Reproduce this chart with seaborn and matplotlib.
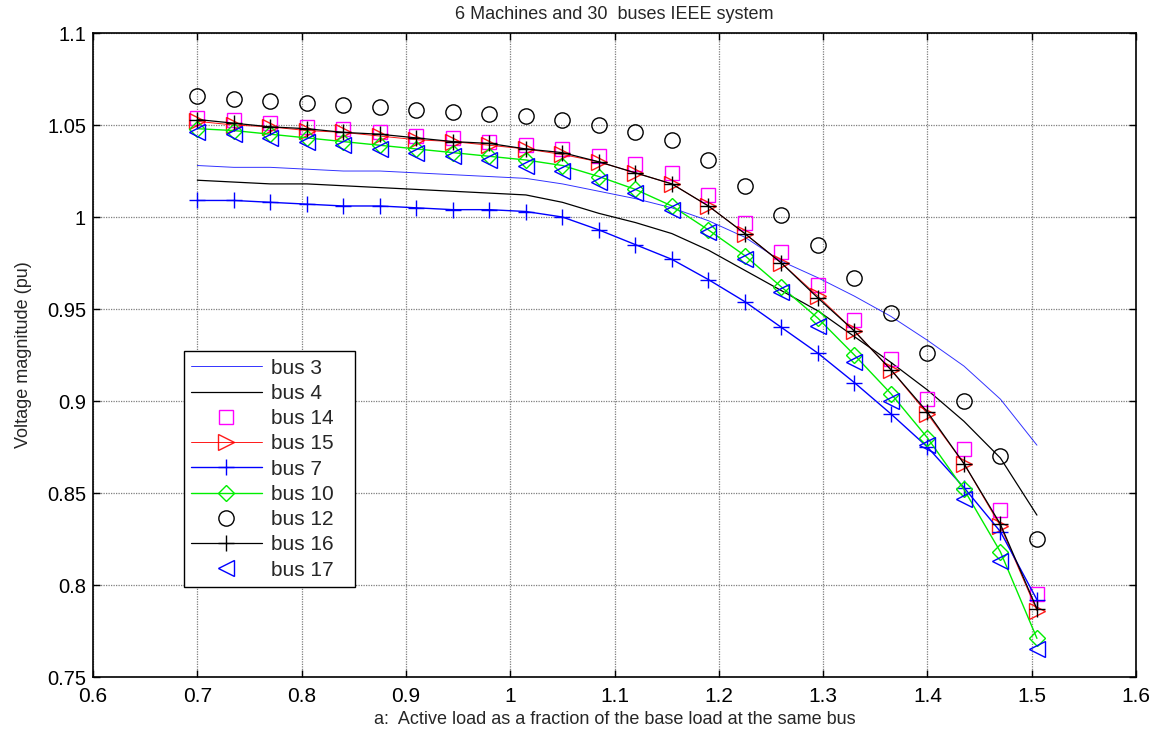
import numpy as np
import pandas as pd
import matplotlib
matplotlib.use("Agg")
import matplotlib.pyplot as plt
import seaborn as sns

# ---------------- data ----------------
load = [0.700, 0.735, 0.770, 0.805, 0.840, 0.875, 0.910, 0.945, 0.980, 1.015, 1.050, 1.085,
        1.120, 1.155, 1.190, 1.225, 1.260, 1.295, 1.330, 1.365, 1.400, 1.435, 1.470, 1.505]

bus3 = [1.028, 1.027, 1.027, 1.026, 1.025, 1.025, 1.024, 1.023, 1.022, 1.021, 1.018, 1.014,
        1.010, 1.005, 0.998, 0.989, 0.976, 0.967, 0.957, 0.946, 0.933, 0.919, 0.901, 0.876]
bus4 = [1.020, 1.019, 1.018, 1.018, 1.017, 1.016, 1.015, 1.014, 1.013, 1.012, 1.008, 1.002,
        0.997, 0.991, 0.982, 0.971, 0.960, 0.949, 0.935, 0.921, 0.906, 0.889, 0.869, 0.838]
bus14 = [1.054, 1.053, 1.051, 1.049, 1.048, 1.046, 1.044, 1.043, 1.041, 1.039, 1.037, 1.033,
         1.029, 1.024, 1.012, 0.997, 0.981, 0.963, 0.944, 0.923, 0.901, 0.874, 0.841, 0.795]
bus15 = [1.052, 1.050, 1.049, 1.047, 1.046, 1.044, 1.042, 1.041, 1.039, 1.037, 1.034, 1.030,
         1.024, 1.018, 1.006, 0.991, 0.975, 0.957, 0.938, 0.917, 0.893, 0.866, 0.832, 0.786]
bus7 = [1.009, 1.009, 1.008, 1.007, 1.006, 1.006, 1.005, 1.004, 1.004, 1.003, 1.000, 0.993,
        0.985, 0.977, 0.966, 0.954, 0.940, 0.926, 0.910, 0.893, 0.875, 0.853, 0.829, 0.792]
bus10 = [1.048, 1.047, 1.045, 1.043, 1.041, 1.039, 1.037, 1.035, 1.033, 1.031, 1.028, 1.022,
         1.015, 1.006, 0.993, 0.979, 0.962, 0.945, 0.925, 0.904, 0.880, 0.852, 0.818, 0.771]
bus12 = [1.066, 1.064, 1.063, 1.062, 1.061, 1.060, 1.058, 1.057, 1.056, 1.055, 1.053, 1.050,
         1.046, 1.042, 1.031, 1.017, 1.001, 0.985, 0.967, 0.948, 0.926, 0.900, 0.870, 0.825]
bus16 = [1.053, 1.051, 1.049, 1.048, 1.046, 1.045, 1.043, 1.041, 1.040, 1.037, 1.035, 1.030,
         1.024, 1.018, 1.006, 0.991, 0.975, 0.956, 0.938, 0.917, 0.894, 0.866, 0.833, 0.787]
bus17 = [1.046, 1.045, 1.043, 1.041, 1.039, 1.037, 1.035, 1.033, 1.031, 1.028, 1.025, 1.019,
         1.013, 1.004, 0.992, 0.977, 0.959, 0.941, 0.921, 0.900, 0.876, 0.847, 0.813, 0.765]

labels = ["bus 3", "bus 4", "bus 14", "bus 15", "bus 7", "bus 10", "bus 12", "bus 16", "bus 17"]
series = [bus3, bus4, bus14, bus15, bus7, bus10, bus12, bus16, bus17]

title = "6 Machines and 30  buses IEEE system"
xlabel = "a:  Active load as a fraction of the base load at the same bus"
ylabel = "Voltage magnitude (pu)"
xticks = [0.6, 0.7, 0.8, 0.9, 1.0, 1.1, 1.2, 1.3, 1.4, 1.5, 1.6]
xticklabels = ["0.6", "0.7", "0.8", "0.9", "1", "1.1", "1.2", "1.3", "1.4", "1.5", "1.6"]
yticks = [0.75, 0.80, 0.85, 0.90, 0.95, 1.00, 1.05, 1.10]
yticklabels = ["0.75", "0.8", "0.85", "0.9", "0.95", "1", "1.05", "1.1"]

# ---------------- styles ----------------
styles = {
    "bus 3":  dict(color="#0000FF", ls="-", marker=None, lw=0.7, alpha=0.8),
    "bus 4":  dict(color="#000000", ls="-", marker=None, lw=0.9),
    "bus 14": dict(color="#FF00FF", ls="", marker="s", ms=10, mfc="none", mew=1.0),
    "bus 15": dict(color="#FF0000", ls="-", marker=">", ms=11, mfc="none", mew=1.0, lw=0.7, alpha=0.9),
    "bus 7":  dict(color="#0000FF", ls="-", marker="+", ms=11, mew=1.0, lw=1.0),
    "bus 10": dict(color="#00EE00", ls="-", marker="D", ms=8, mfc="none", mew=1.0, lw=1.0),
    "bus 12": dict(color="#000000", ls="", marker="o", ms=11, mfc="none", mew=1.0),
    "bus 16": dict(color="#000000", ls="-", marker="+", ms=11, mew=1.0, lw=0.9),
    "bus 17": dict(color="#0000FF", ls="", marker="<", ms=11, mfc="none", mew=1.0),
}

sns.set_theme(style="white")
plt.rcParams["font.family"] = ["Liberation Sans", "DejaVu Sans"]
plt.rcParams["xtick.direction"] = "in"
plt.rcParams["ytick.direction"] = "in"

fig = plt.figure(figsize=(11.63, 7.29), dpi=100)
ax = fig.add_axes([0.080, 0.0713, 0.8968, 0.8834])

handles = []
for lab, ys in zip(labels, series):
    df = pd.DataFrame({"load": load, "v": ys})
    st = dict(styles[lab])
    color = st.pop("color")
    ls = st.pop("ls")
    marker = st.pop("marker")
    kws = dict(color=color, linestyle=ls if ls else "none")
    if marker:
        kws["marker"] = marker
        kws["markeredgecolor"] = color
    kws.update(st)
    sns.lineplot(data=df, x="load", y="v", ax=ax, estimator=None, sort=False,
                 label=lab, legend=False, **kws)
    handles.append(ax.lines[-1])

ax.set_xlim(0.6, 1.6)
ax.set_ylim(0.75, 1.1)
ax.set_xticks(xticks)
ax.set_xticklabels(xticklabels, fontsize=15)
ax.set_yticks(yticks)
ax.set_yticklabels(yticklabels, fontsize=14.5)
ax.tick_params(axis="both", which="both", direction="in", length=5, width=1,
               top=True, right=True, bottom=True, left=True, colors="black", pad=5)
ax.tick_params(axis="x", pad=7)
ax.grid(True, color="#7f7f7f", linestyle=(0, (1, 1)), linewidth=0.9)
for sp in ax.spines.values():
    sp.set_color("black")
    sp.set_linewidth(1.2)

ax.set_title(title, fontsize=13, pad=10)
ax.set_xlabel(xlabel, fontsize=13, labelpad=4)
ax.set_ylabel(ylabel, fontsize=13, labelpad=11)

leg = ax.legend(handles=handles, labels=labels, loc="lower left",
                bbox_to_anchor=(0.087, 0.140, 0.164, 0.363), mode="expand",
                fontsize=15, frameon=True, fancybox=False, framealpha=1,
                edgecolor="black", handlelength=3.4, handletextpad=0.45,
                labelspacing=0.3, borderpad=0.35, borderaxespad=0)
leg.get_frame().set_linewidth(1.0)

fig.savefig("out.png", dpi=100)
